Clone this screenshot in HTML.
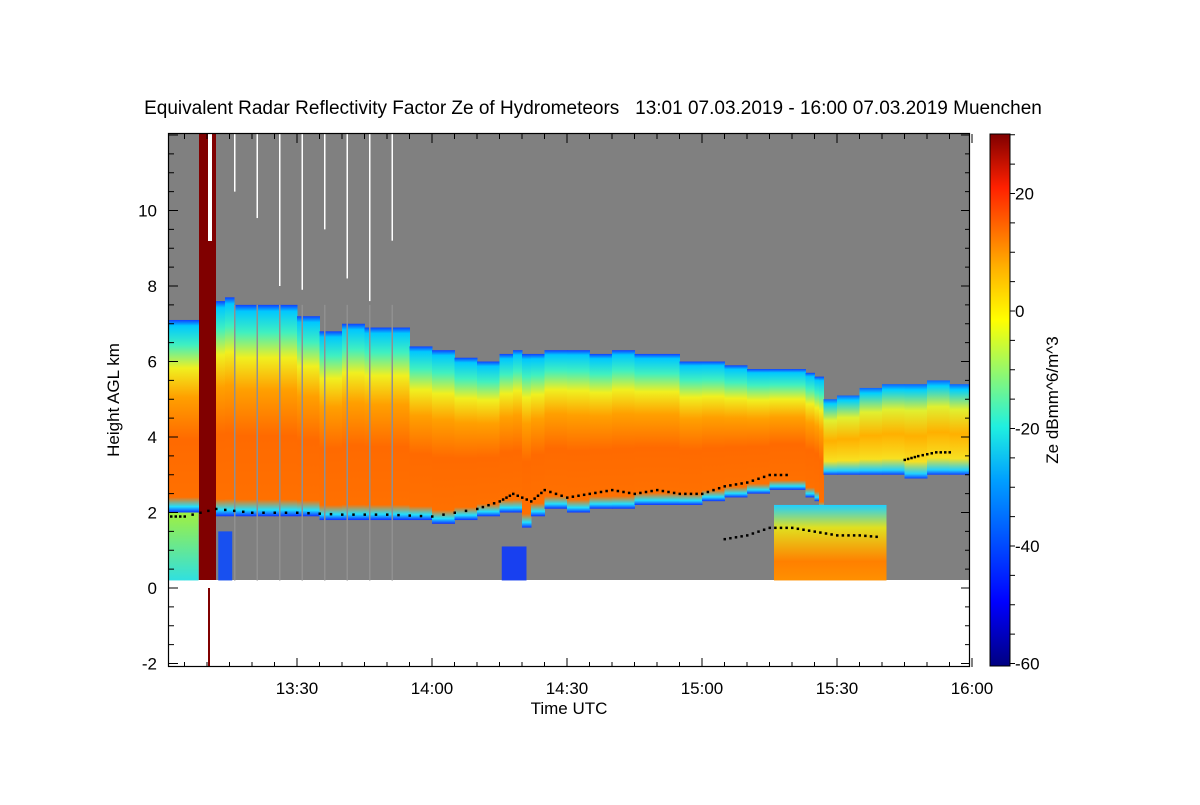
<!DOCTYPE html>
<html><head><meta charset="utf-8"><style>
body{margin:0;background:#fff;width:1200px;height:800px;overflow:hidden}
svg text{font-family:"Liberation Sans",sans-serif;fill:#000}
</style></head><body>
<svg id="chart" width="1200" height="800">
<defs>
<clipPath id="plotClip"><rect x="169" y="134" width="801" height="533"/></clipPath>
<linearGradient id="gMain" x1="0" y1="0" x2="0" y2="1">
<stop offset="0" stop-color="#1040ff"/><stop offset="0.03" stop-color="#00c8ff"/><stop offset="0.13" stop-color="#40f0c0"/>
<stop offset="0.25" stop-color="#f0f020"/><stop offset="0.4" stop-color="#ffa000"/><stop offset="0.62" stop-color="#ff6a00"/>
<stop offset="0.92" stop-color="#ff7000"/><stop offset="0.97" stop-color="#20e0ff"/><stop offset="1" stop-color="#1030ff"/>
</linearGradient>
<linearGradient id="gRight" x1="0" y1="0" x2="0" y2="1">
<stop offset="0" stop-color="#1060ff"/><stop offset="0.06" stop-color="#00d0ff"/><stop offset="0.28" stop-color="#e0f030"/>
<stop offset="0.55" stop-color="#ffb000"/><stop offset="0.82" stop-color="#f8e020"/><stop offset="0.95" stop-color="#20d0ff"/><stop offset="1" stop-color="#1040ff"/>
</linearGradient>
<linearGradient id="gLow" x1="0" y1="0" x2="0" y2="1">
<stop offset="0" stop-color="#20d0ff"/><stop offset="0.3" stop-color="#e0e020"/><stop offset="0.75" stop-color="#ff8000"/><stop offset="1" stop-color="#ff9000"/>
</linearGradient>
<linearGradient id="gRain" x1="0" y1="0" x2="0" y2="1">
<stop offset="0" stop-color="#a0f040"/><stop offset="1" stop-color="#30e0e0"/>
</linearGradient>
<linearGradient id="gBar" x1="0" y1="1" x2="0" y2="0">
<stop offset="0" stop-color="#000080"/><stop offset="0.12" stop-color="#0000ff"/><stop offset="0.35" stop-color="#00a0ff"/>
<stop offset="0.45" stop-color="#20f0e0"/><stop offset="0.65" stop-color="#ffff00"/><stop offset="0.75" stop-color="#ffb000"/>
<stop offset="0.9" stop-color="#ff2000"/><stop offset="1" stop-color="#800000"/>
</linearGradient>
</defs>
<text x="593" y="114" font-size="19" text-anchor="middle" style="white-space:pre">Equivalent Radar Reflectivity Factor Ze of Hydrometeors   13:01 07.03.2019 - 16:00 07.03.2019 Muenchen</text>
<rect x="169" y="134" width="801" height="446" fill="#808080"/>
<g id="cloud" clip-path="url(#plotClip)"></g>
<g id="dots" clip-path="url(#plotClip)"></g>
<g id="axes"></g>
<rect x="990" y="134" width="20" height="532" fill="url(#gBar)" stroke="#000" stroke-width="1"/>
<g id="cbticks"></g>
<text transform="translate(119,400) rotate(-90)" font-size="17" text-anchor="middle">Height AGL km</text>
<text x="569" y="714" font-size="17" text-anchor="middle">Time UTC</text>
<text transform="translate(1058,400) rotate(-90)" font-size="17" text-anchor="middle">Ze dBmm^6/m^3</text>
</svg>
<script>
const times=[1,5,8,12,14,16,20,25,30,35,40,45,50,55,60,65,70,75,78,80,82,85,90,95,100,105,110,115,120,125,130,135,140,143,145,146,147,150,155,160,165,170,175,180];
const tops=[7.1,7.1,7.1,7.6,7.7,7.5,7.5,7.5,7.2,6.8,7.0,6.9,6.9,6.4,6.3,6.1,6.0,6.2,6.3,6.2,6.2,6.3,6.3,6.2,6.3,6.2,6.2,6.0,6.0,5.9,5.8,5.8,5.8,5.7,5.6,5.6,5.0,5.1,5.3,5.4,5.4,5.5,5.4,5.5];
const bases=[2.0,2.0,2.0,1.9,1.9,1.9,1.9,1.9,1.9,1.8,1.8,1.8,1.8,1.8,1.7,1.8,1.9,2.0,2.0,1.6,1.9,2.1,2.0,2.1,2.1,2.2,2.2,2.2,2.3,2.4,2.5,2.6,2.6,2.4,2.3,2.0,3.0,3.0,3.0,3.0,2.9,3.0,3.0,2.8];
const mlTimes=[1,5,12,20,30,40,50,60,70,75,78,82,85,90,95,100,105,110,115,120,125,130,135,140,165,168,172,176];
const mlHeights=[1.9,1.9,2.1,2.0,2.0,1.95,1.95,1.9,2.1,2.3,2.5,2.3,2.6,2.4,2.5,2.6,2.5,2.6,2.5,2.5,2.7,2.8,3.0,3.0,3.4,3.5,3.6,3.6];
const lowTimes=[125,130,135,140,145,150,155,160];
const lowHeights=[1.3,1.4,1.6,1.6,1.5,1.4,1.4,1.35];
const xTicks=["13:30","14:00","14:30","15:00","15:30","16:00"];
const xTickMin=[30,60,90,120,150,180];
const yTicks=[-2,0,2,4,6,8,10];
const cbTicks=[20,0,-20,-40,-60];
const spikeTimes=[16,21,26,31,36,41,46,51];
const spikeEnds=[10.5,9.8,8.0,7.9,9.5,8.2,7.6,9.2];

const NS="http://www.w3.org/2000/svg";
const X=t=>162+4.5*t, Y=h=>588-37.75*h, C=v=>311-5.875*v;
function mk(tag,attrs,parent){const e=document.createElementNS(NS,tag);for(const k in attrs)e.setAttribute(k,attrs[k]);parent.appendChild(e);return e;}
const cloud=document.getElementById('cloud');
for(let i=0;i<times.length-1;i++){
  const t0=times[i],t1=times[i+1];
  const grad=t0>=147?'url(#gRight)':'url(#gMain)';
  const r=mk('rect',{x:X(t0),y:Y(tops[i]),width:X(t1)-X(t0)+0.5,height:Y(bases[i])-Y(tops[i]),fill:grad},cloud);
  
  
  if(t0<8){const q=mk('rect',{x:X(t0),y:Y(bases[i]),width:X(t1)-X(t0)+0.5,height:Y(0.2)-Y(bases[i]),fill:'url(#gRain)'},cloud);
  
  }
}
const lp=mk('rect',{x:X(136),y:Y(2.2),width:X(161)-X(136),height:Y(0.2)-Y(2.2),fill:'url(#gLow)'},cloud);


const bb=mk('rect',{x:X(75.5),y:Y(1.1),width:X(81)-X(75.5),height:Y(0.2)-Y(1.1),fill:'#1840f0'},cloud);


const bb2=mk('rect',{x:X(12.5),y:Y(1.5),width:14,height:Y(0.2)-Y(1.5),fill:'#1850f0'},cloud);


const rb=mk('rect',{x:199,y:134,width:17,height:446,fill:'#800000'},cloud);


const wb=mk('rect',{x:208,y:134,width:4,height:107,fill:'#fff'},cloud);


const rl=mk('rect',{x:208,y:588,width:2,height:78,fill:'#800000'},cloud);


spikeTimes.forEach((t,i)=>{
  const s=mk('rect',{x:X(t),y:134,width:1.5,height:Y(spikeEnds[i])-134,fill:'#fff'},cloud);
  
  
  const g=mk('rect',{x:X(t),y:Y(7.5),width:1.5,height:Y(0.2)-Y(7.5),fill:'#909090'},cloud);
  
  
});
const dots=document.getElementById('dots');
function dotLine(ts,hs){for(let i=0;i<ts.length-1;i++){for(let k=0;k<4;k++){const t=ts[i]+(ts[i+1]-ts[i])*k/4;const h=hs[i]+(hs[i+1]-hs[i])*k/4;
  const d=mk('rect',{x:X(t)-1,y:Y(h)-1,width:2.5,height:2.5,fill:'#000'},dots);
  
  }}}
dotLine(mlTimes.slice(0,24),mlHeights.slice(0,24));
dotLine(mlTimes.slice(24),mlHeights.slice(24));
dotLine(lowTimes,lowHeights);
const ax=document.getElementById('axes');
mk('rect',{x:168.5,y:133.5,width:801,height:533,fill:'none',stroke:'#000','stroke-width':1.2},ax);
for(let m=0;m<=180;m+=5){const big=m%30==0;const x=X(m);if(x<169)continue;
  mk('line',{x1:x,y1:667,x2:x,y2:667-(big?9:5),stroke:'#000'},ax);
  mk('line',{x1:x,y1:134,x2:x,y2:134+(big?9:5),stroke:'#000'},ax);}
xTicks.forEach((l,i)=>{const t=mk('text',{x:X(xTickMin[i]),y:694,'font-size':17,'text-anchor':'middle'},ax);t.textContent=l;
  
  });
for(let h=-2;h<=12;h+=0.5){const y=Y(h);if(y<134||y>667)continue;const big=h%2==0;
  mk('line',{x1:169,y1:y,x2:169+(big?9:5),y2:y,stroke:'#000'},ax);
  mk('line',{x1:970,y1:y,x2:970-(big?9:5),y2:y,stroke:'#000'},ax);}
yTicks.forEach(v=>{const t=mk('text',{x:157,y:Y(v)+6,'font-size':17,'text-anchor':'end'},ax);t.textContent=v;
  
  });
const cb=document.getElementById('cbticks');
for(let v=-60;v<=30;v+=5){mk('line',{x1:1010,y1:C(v),x2:1015,y2:C(v),stroke:'#000'},cb);}
cbTicks.forEach(v=>{const t=mk('text',{x:1015,y:C(v)+6,'font-size':17},cb);t.textContent=v;
  
  });
</script>
</body></html>
